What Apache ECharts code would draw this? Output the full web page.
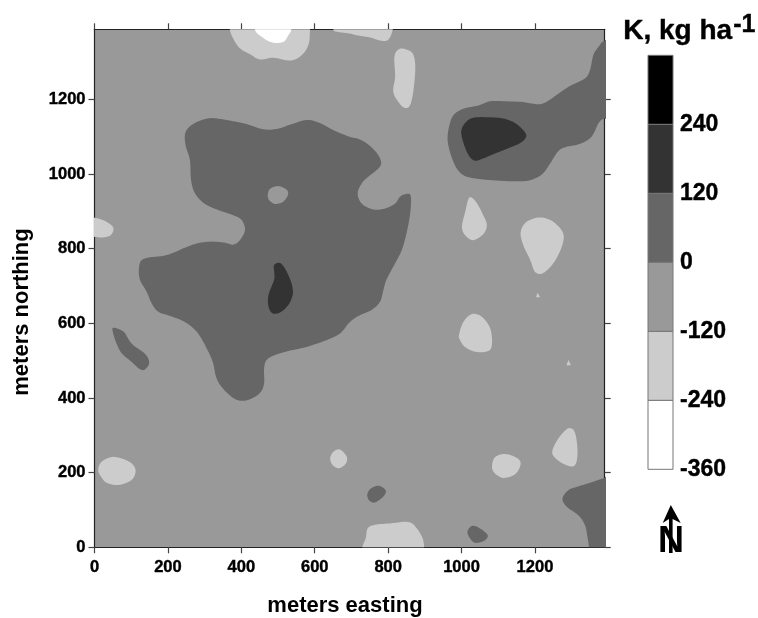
<!DOCTYPE html>
<html>
<head>
<meta charset="utf-8">
<style>html,body{margin:0;padding:0;background:#fff}#c{width:758px;height:618px}</style>
<script src="https://cdn.jsdelivr.net/npm/echarts@6/dist/echarts.min.js"></script>
</head>
<body>
<div id="c"></div>
<script>
// axis ticks
const xTicks = [0,200,400,600,800,1000,1200];
const yTicks = [0,200,400,600,800,1000,1200];
const X_MAX = 1390, Y_MAX = 1388;

// colour bar
const bandEdges = [-360,-240,-120,0,120,240,360];
const bandColours = ['#ffffff','#cccccc','#999999','#666666','#333333','#000000'];
const barLabels = [-360,-240,-120,0,120,240];

// contour outlines [meters easting, meters northing]
const mainBlob = [[247,1109],[260,1128],[287,1143],[319,1150],[360,1145],[414,1134],[460,1120],[496,1121],[532,1132],[578,1145],[614,1137],[650,1118],[695,1100],[723,1093],[751,1075],[773,1051],[781,1028],[769,1011],[746,993],[728,975],[717,948],[728,921],[760,905],[792,908],[819,921],[832,939],[846,946],[861,943],[861,903],[852,850],[837,796],[814,752],[795,716],[787,689],[778,658],[755,636],[723,622],[696,604],[669,573],[632,555],[578,537],[533,527],[492,515],[469,502],[462,479],[462,439],[451,414],[422,396],[396,393],[374,403],[346,430],[331,457],[322,497],[301,542],[278,578],[246,604],[206,620],[174,631],[156,653],[142,685],[124,716],[121,747],[128,769],[151,777],[197,783],[242,801],[278,814],[315,819],[351,817],[378,811],[396,823],[410,850],[401,877],[378,890],[342,902],[301,920],[274,948],[263,984],[260,1037],[248,1078]];
const mainHole = [[472,944],[478,960],[499,968],[523,959],[527,944],[514,926],[492,920],[476,930]];
const mainCore = [[489,756],[505,762],[519,747],[533,718],[539,698],[540,676],[528,649],[505,629],[485,627],[474,645],[474,676],[489,716],[490,734]];
const eastBand = [[1420,1357],[1389,1357],[1373,1341],[1359,1319],[1350,1279],[1336,1256],[1295,1236],[1259,1212],[1232,1194],[1209,1187],[1168,1193],[1123,1195],[1078,1195],[1046,1184],[1005,1175],[978,1158],[966,1127],[962,1091],[971,1051],[987,1015],[1009,995],[1046,987],[1105,982],[1168,981],[1200,988],[1223,1003],[1241,1028],[1264,1062],[1286,1073],[1323,1081],[1354,1100],[1373,1136],[1389,1149],[1420,1149]];
const eastCore = [[999,1113],[1009,1136],[1032,1151],[1078,1152],[1118,1148],[1150,1134],[1176,1106],[1164,1086],[1132,1071],[1096,1057],[1059,1042],[1037,1036],[1021,1048],[1007,1078]];
const cornerSE = [[1420,197],[1389,186],[1350,173],[1314,162],[1291,153],[1275,131],[1286,109],[1318,86],[1336,60],[1343,28],[1347,0],[1347,-20],[1420,-20]];
const darkWest = [[51,588],[79,578],[101,546],[138,518],[149,495],[138,477],[124,477],[101,497],[74,520],[60,546],[51,573]];
const darkA = [[743,140],[751,156],[773,165],[793,153],[787,136],[764,120],[749,125]];
const darkB = [[1016,42],[1028,57],[1046,53],[1071,33],[1061,17],[1037,12],[1023,24]];
const lightTop = [[369,1420],[369,1387],[378,1363],[396,1337],[424,1321],[451,1307],[487,1312],[523,1305],[546,1307],[569,1323],[584,1350],[587,1387],[587,1420]];
const whiteTop = [[437,1420],[437,1387],[455,1368],[483,1353],[514,1354],[528,1372],[536,1387],[536,1420]];
const lightTop2 = [[651,1420],[651,1387],[664,1381],[695,1377],[714,1372],[751,1366],[782,1357],[801,1361],[812,1386],[812,1420]];
const lightTall = [[817,1314],[828,1334],[846,1335],[867,1323],[874,1287],[869,1225],[860,1185],[846,1177],[831,1189],[814,1220],[819,1261]];
const lightWest = [[-20,883],[1,883],[29,874],[51,857],[44,836],[19,830],[1,832],[-20,832]];
const lightDrop = [[1021,937],[1039,926],[1059,890],[1069,863],[1059,839],[1032,823],[1010,836],[1001,859],[1010,899]];
const lightBig = [[1161,845],[1177,872],[1214,884],[1250,872],[1277,841],[1273,805],[1250,761],[1221,734],[1200,738],[1187,770],[1168,810]];
const lightMid = [[993,569],[1005,604],[1028,625],[1055,618],[1078,587],[1083,546],[1073,526],[1037,524],[1009,537],[996,555]];
const lightS1 = [[1083,216],[1091,241],[1118,250],[1150,240],[1161,223],[1146,196],[1114,186],[1091,198]];
const lightS2 = [[1247,256],[1264,292],[1291,319],[1309,307],[1316,256],[1309,220],[1286,220],[1259,236]];
const lightBottom = [[740,-20],[740,28],[746,53],[769,61],[805,64],[855,68],[878,51],[894,24],[898,0],[898,-20]];
const lightSW = [[10,207],[19,229],[47,242],[74,238],[101,225],[112,205],[101,180],[65,167],[33,173],[18,189]];
const lightS3 = [[642,238],[651,256],[669,262],[687,243],[685,225],[667,212],[649,220]];
const speck1 = [[1207,682],[1203,670],[1214,670]];
const speck2 = [[1291,502],[1286,488],[1298,488]];

const contourLayers = [
  [mainBlob,'#666666'],[mainHole,'#999999'],[mainCore,'#333333'],
  [eastBand,'#666666'],[eastCore,'#333333'],[cornerSE,'#666666'],
  [darkWest,'#666666'],[darkA,'#666666'],[darkB,'#666666'],
  [lightTop,'#cccccc'],[whiteTop,'#ffffff'],[lightTop2,'#cccccc'],[lightTall,'#cccccc'],
  [lightWest,'#cccccc'],[lightDrop,'#cccccc'],[lightBig,'#cccccc'],[lightMid,'#cccccc'],
  [lightS1,'#cccccc'],[lightS2,'#cccccc'],[lightBottom,'#cccccc'],[lightSW,'#cccccc'],
  [lightS3,'#cccccc'],[speck1,'#cccccc'],[speck2,'#cccccc']
];

// rounds a traced outline for display (closed Catmull-Rom through the traced points)
function roundOutline(pts){
  if(pts.length<4) return pts;
  const out=[], n=pts.length, steps=6;
  for(let i=0;i<n;i++){
    const a=pts[(i-1+n)%n], b=pts[i], c=pts[(i+1)%n], d=pts[(i+2)%n];
    for(let s=0;s<steps;s++){
      const t=s/steps, t2=t*t, t3=t2*t;
      out.push([0,1].map(k=>0.5*(2*b[k]+(c[k]-a[k])*t+(2*a[k]-5*b[k]+4*c[k]-d[k])*t2+(3*b[k]-a[k]-3*c[k]+d[k])*t3)));
    }
  }
  return out;
}

const FONT = '"Liberation Sans", Arial, sans-serif';
const heavy = {textBorderColor:'#000',textBorderWidth:0.4};
const tickLabel = Object.assign({fontFamily:FONT,fontWeight:'bold',fontSize:16.5,color:'#000'},heavy);
const line = {show:true,lineStyle:{color:'#222',width:1.2}};
const chart = echarts.init(document.getElementById('c'),null,{renderer:'canvas'});

function mapAxis(extra){
  return Object.assign({
    type:'value',gridIndex:0,min:0,
    splitLine:{show:false},axisLine:Object.assign({onZero:false},line)
  },extra);
}
const tick = vals => ({show:true,length:6,customValues:vals,lineStyle:{color:'#444',width:1.2}});
const plain = v => String(v);

chart.setOption({
  animation:false,
  backgroundColor:'#fff',
  grid:[
    {left:94.5,top:29.3,width:510.2,height:518,show:true,backgroundColor:'#999999',borderWidth:0,outerBoundsMode:'none'},
    {left:648,top:55.3,width:25,height:414,show:false,outerBoundsMode:'none'}
  ],
  xAxis:[
    mapAxis({position:'bottom',max:X_MAX,axisTick:tick(xTicks),
      axisLabel:Object.assign({customValues:xTicks,margin:11.5,formatter:plain},tickLabel)}),
    mapAxis({position:'top',max:X_MAX,axisTick:tick(xTicks),axisLabel:{show:false}}),
    {type:'value',gridIndex:1,min:0,max:1,show:false}
  ],
  yAxis:[
    mapAxis({position:'left',max:Y_MAX,axisTick:tick(yTicks),
      axisLabel:Object.assign({customValues:yTicks,margin:9,formatter:plain},tickLabel)}),
    mapAxis({position:'right',max:Y_MAX,axisTick:tick(yTicks),axisLabel:{show:false}}),
    {type:'value',gridIndex:1,position:'right',min:-360,max:360,
      axisLine:{show:false},axisTick:{show:false},splitLine:{show:false},
      axisLabel:Object.assign({customValues:barLabels,margin:7,padding:[5,0,0,0],formatter:plain,
        fontFamily:FONT,fontWeight:'bold',fontSize:23,color:'#000'},heavy)}
  ],
  series:[
    {
      type:'custom',xAxisIndex:0,yAxisIndex:0,clip:true,silent:true,z:1,
      data:contourLayers.map((_,i)=>[i]),
      encode:{x:[],y:[]},
      renderItem:(params,api)=>{
        const layer = contourLayers[api.value(0)];
        return {type:'polygon',
          shape:{points:roundOutline(layer[0].map(p=>api.coord(p)))},
          style:{fill:layer[1],stroke:null}};
      }
    },
    {
      type:'custom',xAxisIndex:2,yAxisIndex:2,silent:true,z:2,clip:false,
      data:bandColours.map((_,i)=>[i]),
      encode:{x:[],y:[]},
      renderItem:(params,api)=>{
        const i = api.value(0);
        const a = api.coord([0,bandEdges[i+1]]), b = api.coord([1,bandEdges[i]]);
        return {type:'rect',
          shape:{x:a[0],y:a[1],width:b[0]-a[0],height:b[1]-a[1]},
          style:{fill:bandColours[i],stroke:'#777',lineWidth:1}};
      }
    }
  ],
  graphic:[
    {type:'text',x:345,y:606,z:10,style:{text:'meters easting',align:'center',verticalAlign:'middle',fontFamily:FONT,fontWeight:'bold',fontSize:22,fill:'#000'}},
    {type:'text',x:22,y:312,rotation:Math.PI/2,z:10,style:{text:'meters northing',align:'center',verticalAlign:'middle',fontFamily:FONT,fontWeight:'bold',fontSize:22,fill:'#000'}},
    {type:'text',left:623,top:17,z:10,style:{text:'K, kg ha',fontFamily:FONT,fontWeight:'bold',fontSize:28,fill:'#000',stroke:'#000',lineWidth:0.4}},
    {type:'text',left:733,top:12,z:10,style:{text:'-1',fontFamily:FONT,fontWeight:'bold',fontSize:25,fill:'#000',stroke:'#000',lineWidth:0.4}},
    {type:'text',left:658,top:524,z:10,style:{text:'N',fontFamily:FONT,fontWeight:'bold',fontSize:36,fill:'#000'}},
    {type:'polygon',z:11,shape:{points:[[670.8,505],[680.7,523],[672.6,519],[672.6,553],[669,553],[669,519],[662.7,523]]},style:{fill:'#000'}}
  ]
});
</script>
</body>
</html>
